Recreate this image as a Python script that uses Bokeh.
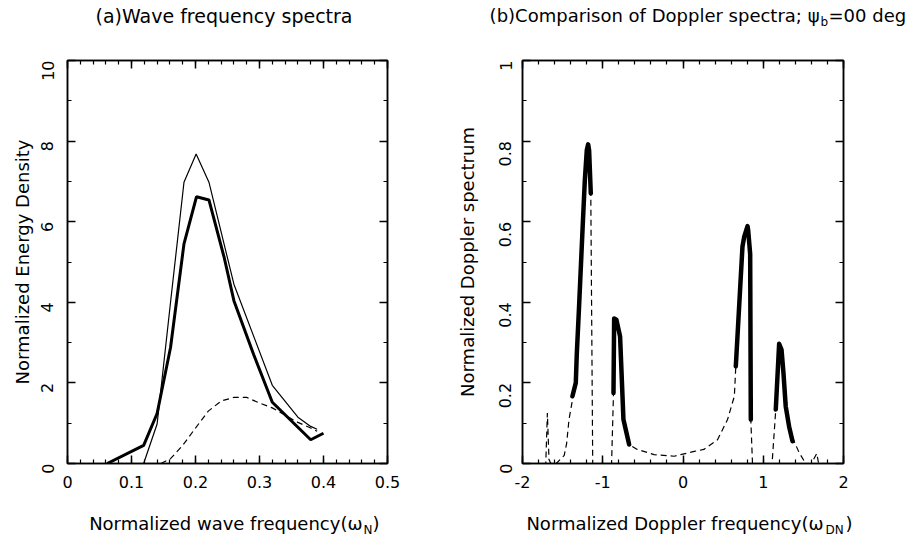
import math
from bokeh.plotting import figure
from bokeh.layouts import row, column
from bokeh.models import Range1d, LinearAxis, SingleIntervalTicker, CustomJSTickFormatter, Label
from bokeh.embed import file_html
from bokeh.resources import INLINE

# ---------------- data ----------------
# (a) wave frequency spectra
thin_x = [0.119, 0.140, 0.161, 0.182, 0.201, 0.221, 0.260, 0.320, 0.360, 0.380, 0.390]
thin_y = [0.0, 0.98, 4.0, 6.98, 7.68, 6.98, 4.45, 1.94, 1.15, 0.92, 0.85]

thick_x = [0.062, 0.119, 0.140, 0.161, 0.182, 0.2016, 0.221, 0.245, 0.260, 0.291, 0.320, 0.380, 0.400]
thick_y = [0.0, 0.45, 1.24, 2.88, 5.45, 6.62, 6.54, 5.1, 4.04, 2.7, 1.52, 0.59, 0.75]

dash_a_x = [0.146, 0.161, 0.180, 0.200, 0.220, 0.240, 0.260, 0.280, 0.300, 0.320, 0.340, 0.360, 0.380, 0.390]
dash_a_y = [0.0, 0.12, 0.45, 0.88, 1.30, 1.55, 1.64, 1.64, 1.50, 1.38, 1.20, 1.02, 0.88, 0.80]

# (b) Doppler spectra: thick segments
pk1_x = [-1.378, -1.336, -1.323, -1.295, -1.252, -1.224, -1.199, -1.182, -1.170, -1.149]
pk1_y = [0.167, 0.200, 0.274, 0.390, 0.580, 0.700, 0.777, 0.792, 0.777, 0.670]
pk2_x = [-0.866, -0.858, -0.830, -0.784, -0.742, -0.671]
pk2_y = [0.175, 0.360, 0.357, 0.315, 0.109, 0.047]
pk3_x = [0.658, 0.741, 0.762, 0.804, 0.812, 0.837, 0.845]
pk3_y = [0.241, 0.538, 0.562, 0.589, 0.579, 0.520, 0.109]
pk4_x = [1.156, 1.198, 1.228, 1.252, 1.280, 1.322, 1.365]
pk4_y = [0.134, 0.297, 0.282, 0.224, 0.142, 0.092, 0.055]

# (b) dashed curve
dash_b_x = [-1.76, -1.71, -1.69, -1.67, -1.647, -1.58, -1.48, -1.45, -1.42, -1.378,
            -1.336, -1.295, -1.252, -1.224, -1.199, -1.182, -1.170, -1.149, -1.125, -0.89,
            -0.866, -0.858, -0.830, -0.784, -0.742, -0.671, -0.57, -0.36, -0.11, -0.03,
            0.14, 0.26, 0.43, 0.555, 0.64, 0.658, 0.741, 0.804, 0.837, 0.845,
            0.866, 1.11, 1.156, 1.198, 1.252, 1.322, 1.385, 1.447, 1.53, 1.60,
            1.667, 1.69]
dash_b_y = [0.0, 0.0, 0.125, 0.01, 0.0, 0.0, 0.02, 0.05, 0.11, 0.157,
            0.200, 0.390, 0.580, 0.700, 0.777, 0.792, 0.777, 0.670, 0.0, 0.0,
            0.175, 0.360, 0.357, 0.315, 0.109, 0.047, 0.035, 0.022, 0.018, 0.022,
            0.030, 0.035, 0.059, 0.109, 0.167, 0.241, 0.538, 0.589, 0.520, 0.109,
            0.0, 0.0, 0.134, 0.297, 0.224, 0.092, 0.055, 0.027, 0.0, 0.0,
            0.025, 0.0]

FONT = "DejaVu Sans"
fmt_code = "return Number(tick.toFixed(2)).toString();"

W, H = 919, 541
TOP_H, PANEL_H = 30, 468
BOT_H = H - TOP_H - PANEL_H


def setup(p, xint, xminor, yint, yminor, ylabel, ystand, lstand):
    p.grid.visible = False
    p.outline_line_color = "black"
    p.outline_line_width = 1.5
    p.background_fill_color = "white"
    p.border_fill_color = "white"
    bottom = p.below[0]
    left = p.left[0]
    xt = SingleIntervalTicker(interval=xint, num_minor_ticks=xminor)
    yt = SingleIntervalTicker(interval=yint, num_minor_ticks=yminor)
    top = LinearAxis(ticker=xt, formatter=CustomJSTickFormatter(code="return '';"))
    right = LinearAxis(ticker=yt, formatter=CustomJSTickFormatter(code="return '';"))
    p.add_layout(top, "above")
    p.add_layout(right, "right")
    bottom.ticker = xt
    left.ticker = yt
    bottom.formatter = CustomJSTickFormatter(code=fmt_code)
    left.formatter = CustomJSTickFormatter(code=fmt_code)
    for ax in [bottom, left, top, right]:
        ax.axis_line_color = "black"
        ax.axis_line_width = 1.5
        ax.major_tick_line_width = 1.5
        ax.minor_tick_line_width = 1.2
        ax.major_tick_in = 8
        ax.major_tick_out = 0
        ax.minor_tick_in = 4
        ax.minor_tick_out = 0
        ax.major_label_text_font = FONT
        ax.major_label_text_font_size = "16px"
        ax.major_label_text_color = "black"
    bottom.major_label_standoff = 12
    left.major_label_orientation = math.pi / 2
    left.major_label_standoff = ystand
    left.axis_label = ylabel
    left.axis_label_text_font = FONT
    left.axis_label_text_font_size = "18px"
    left.axis_label_text_font_style = "normal"
    left.axis_label_text_color = "black"
    left.axis_label_standoff = lstand


def strip(height):
    s = figure(width=W, height=height, x_range=Range1d(0, W), y_range=Range1d(height, 0),
               output_backend="svg", toolbar_location=None, min_border=0,
               x_axis_location=None, y_axis_location=None)
    s.outline_line_color = None
    s.grid.visible = False
    s.background_fill_color = "white"
    s.border_fill_color = "white"
    return s


def lab(p, x, y, text, size="18px", align="left"):
    p.add_layout(Label(x=x, y=y, text=text, text_font=FONT, text_font_size=size,
                       text_align=align, text_baseline="middle", text_color="black"))


# ---------------- titles strip ----------------
top_strip = strip(TOP_H)
lab(top_strip, 95, 15, "(a)Wave frequency spectra", size="19px")
lab(top_strip, 819, 15, "(b)Comparison of Doppler spectra; \u03c8", align="right")
lab(top_strip, 820, 21, "b", size="12px")
lab(top_strip, 828, 15, "=00 deg")

# ---------------- panel (a) ----------------
p1 = figure(width=440, height=PANEL_H, x_range=Range1d(0, 0.5), y_range=Range1d(0, 10),
            output_backend="svg", toolbar_location=None,
            min_border_left=67, min_border_right=53, min_border_top=30, min_border_bottom=35)
setup(p1, 0.1, 5, 2, 2, "Normalized Energy Density", 20, 0)

p1.line(thin_x, thin_y, line_color="black", line_width=1.2)
p1.line(thick_x, thick_y, line_color="black", line_width=3)
p1.line(dash_a_x, dash_a_y, line_color="black", line_width=1.2, line_dash="6 4")

# ---------------- panel (b) ----------------
p2 = figure(width=W - 440, height=PANEL_H, x_range=Range1d(-2, 2), y_range=Range1d(0, 1),
            output_backend="svg", toolbar_location=None,
            min_border_left=82, min_border_right=76, min_border_top=30, min_border_bottom=35)
setup(p2, 1, 5, 0.2, 2, "Normalized Doppler spectrum", 17, 13)

p2.line(dash_b_x, dash_b_y, line_color="black", line_width=1.2, line_dash="6 4")
for xs, ys in [(pk1_x, pk1_y), (pk2_x, pk2_y), (pk3_x, pk3_y), (pk4_x, pk4_y)]:
    p2.line(xs, ys, line_color="black", line_width=4.5, line_join="round", line_cap="round")

# ---------------- x-label strip ----------------
bot_strip = strip(BOT_H)
yb = 523 - (TOP_H + PANEL_H)
lab(bot_strip, 362, yb, "Normalized wave frequency(\u03c9", align="right")
lab(bot_strip, 363, yb + 6, "N", size="12px")
lab(bot_strip, 372, yb, ")")
lab(bot_strip, 823, yb, "Normalized Doppler frequency(\u03c9", align="right")
lab(bot_strip, 825, yb + 6, "DN", size="12px")
lab(bot_strip, 845, yb, ")")

layout = column(top_strip, row(p1, p2), bot_strip)
open("out.html", "w").write(file_html(layout, INLINE))
